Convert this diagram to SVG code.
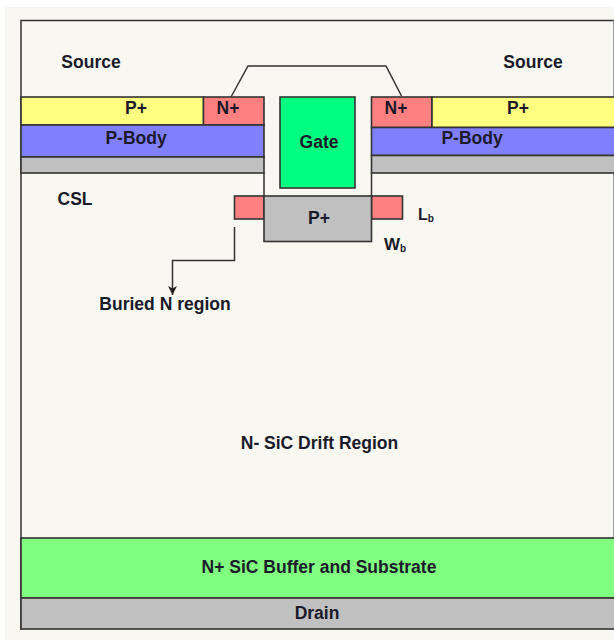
<svg xmlns="http://www.w3.org/2000/svg" width="614" height="642" viewBox="0 0 614 642">
<style>
.s{stroke:#333;stroke-width:1.6}
.c{fill:none;stroke:#333;stroke-width:1.5}
text{font-family:"Liberation Sans",Arial,sans-serif;font-weight:700;font-size:17.500px;fill:#1a1a2a;text-anchor:middle}
.sub{font-size:10px}
.yellow{fill:#ffff80}.red{fill:#ff8080}.blue{fill:#8080ff}.gray{fill:#c0c0c0}
</style>
<defs><marker id="a" markerUnits="userSpaceOnUse" markerWidth="10" markerHeight="10" refX="9" refY="5" orient="auto"><path d="M0 0.500L2.500 5L0 9.500L9 5Z" fill="#222"/></marker></defs>
<rect width="614" height="642" fill="#fff"/>
<rect x="5" y="7" width="609" height="633" fill="#f9f7f1"/>
<path class="c" d="M614 20.500H21V630"/>
<path d="M613.500 20.500V538" fill="none" stroke="#999"/>
<g id="left-p-plus"><rect class="s yellow" x="21" y="97" width="182.500" height="28"/><text x="136" y="114">P+</text></g>
<g id="left-n-plus"><rect class="s red" x="203.500" y="97" width="60.500" height="28"/><text x="228" y="114">N+</text></g>
<g id="left-p-body"><rect class="s blue" x="21" y="125" width="243" height="32"/><text x="136" y="144">P-Body</text></g>
<g id="left-gray"><rect class="s gray" x="21" y="157" width="243" height="16"/></g>
<g id="gate"><rect x="280" y="97" width="75" height="91" fill="#00ff80" class="s"/><text x="319" y="148">Gate</text></g>
<g id="right-n-plus"><rect class="s red" x="371.500" y="97" width="60.500" height="30.500"/><text x="396" y="114">N+</text></g>
<g id="right-p-plus"><rect class="s yellow" x="432" y="97" width="184" height="30.500"/><text x="518" y="114">P+</text></g>
<g id="right-p-body"><rect class="s blue" x="371.500" y="127.500" width="245" height="28"/><text x="472" y="144">P-Body</text></g>
<g id="right-gray"><rect class="s gray" x="371.500" y="155.500" width="245" height="17.500"/></g>
<g id="trench-walls"><path class="c" d="M264 173V196M371.500 173V196"/></g>
<g id="buried-n-left"><rect class="s red" x="234.500" y="196" width="29.500" height="23"/></g>
<g id="buried-n-right"><rect class="s red" x="371.500" y="196" width="31" height="23"/></g>
<g id="p-plus-shield"><rect class="s gray" x="264" y="196" width="107.500" height="45.500"/><text x="319" y="224">P+</text></g>
<g id="buffer"><rect class="s" x="21" y="538" width="595" height="60" fill="#80ff80"/><text x="319" y="573">N+ SiC Buffer and Substrate</text></g>
<g id="drain"><rect class="s gray" x="21" y="598" width="595" height="31"/><text x="317" y="619">Drain</text></g>
<g id="labels">
<text x="91" y="68">Source</text>
<text x="533" y="68">Source</text>
<text x="75" y="205">CSL</text>
<text x="165" y="310">Buried N region</text>
<text x="319.500" y="449">N- SiC Drift Region</text>
<text x="418" y="220" style="text-anchor:start;font-size:16px">L<tspan class="sub" dy="2">b</tspan></text>
<text x="384" y="250" style="text-anchor:start;font-size:17px">W<tspan class="sub" dy="2">b</tspan></text>
</g>
<g id="connectors">
<path class="c" d="M231 97L248 66H386L401.500 96"/>
<path class="c" marker-end="url(#a)" d="M234.500 227V260.500H172.500V295"/>
</g>
</svg>
